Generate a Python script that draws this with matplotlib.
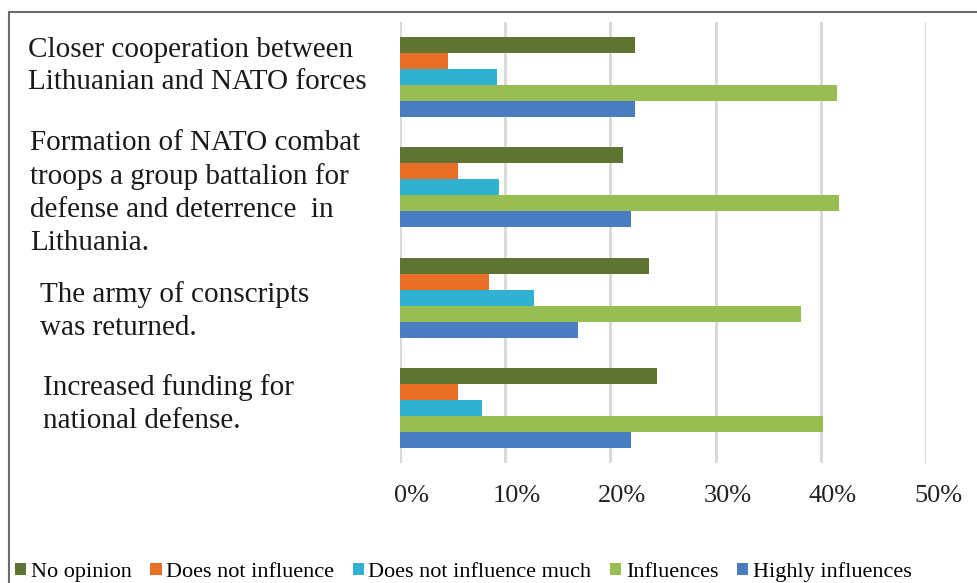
import numpy as np
import matplotlib
matplotlib.use("Agg")
import matplotlib.pyplot as plt
import matplotlib.transforms as mtransforms
from matplotlib.patches import Rectangle

# --- data (percent) ---
categories = [
    "Closer cooperation between\nLithuanian and NATO forces",
    "Formation of NATO combat\ntroops a group battalion for\ndefense and deterrence  in\nLithuania.",
    "The army of conscripts\nwas returned.",
    "Increased funding for\nnational defense.",
]
series_names = ["No opinion", "Does not influence", "Does not influence much",
                "Influences", "Highly influences"]
no_opinion = [22.3, 21.2, 23.7, 24.4]
not_influence = [4.6, 5.5, 8.5, 5.5]
not_influence_much = [9.2, 9.4, 12.7, 7.8]
influences = [41.5, 41.7, 38.1, 40.2]
highly_influences = [22.3, 22.0, 16.9, 22.0]
xticks = [0, 10, 20, 30, 40, 50]
xtick_labels = ["0%", "10%", "20%", "30%", "40%", "50%"]

colors = ["#5e7531", "#e96f26", "#31b1d2", "#98bd52", "#4a7cc2"]

W, H = 978, 583
fig = plt.figure(figsize=(W / 100, H / 100), dpi=100)
plt.rcParams['font.family'] = ['Liberation Serif', 'DejaVu Serif']

# outer frame (open to right and bottom)
fig.patches.append(Rectangle((9 / W, -0.1), 1.2, 1 - 12 / H + 0.1, transform=fig.transFigure,
                             fill=False, edgecolor="#6b6b6b", linewidth=1.5))

ax = fig.add_axes([400 / W, (H - 463) / H, 526 / W, 441 / H])

all_series = [no_opinion, not_influence, not_influence_much, influences, highly_influences]
y = np.arange(len(categories))
h = 0.145
for j, (vals, name, c) in enumerate(zip(all_series, series_names, colors)):
    ax.barh(y + (j - 2) * h, vals, height=h, color=c, label=name, zorder=3)

ax.set_xlim(0, 50)
ax.set_ylim(3.5, -0.5)
ax.set_yticks([])
ax.set_xticks(xticks)
ax.set_xticklabels(xtick_labels, fontsize=19, color="#222222")
ax.tick_params(axis="x", length=0, pad=16)
offset = mtransforms.ScaledTranslation(12 / 100, 0, fig.dpi_scale_trans)
for lab in ax.get_xticklabels():
    lab.set_transform(lab.get_transform() + offset)
ax.grid(axis="x", color="#dcd6d6", linewidth=2, zorder=0)
for s in ax.spines.values():
    s.set_visible(False)

# category labels, left aligned in the left margin
label_pos = [(28, 66), (30, 193), (40, 311), (43, 404)]
for text, (px, py) in zip(categories, label_pos):
    fig.text(px / W, 1 - py / H, text, ha="left", va="center", fontsize=21,
             linespacing=1.33, color="#1a1a1a")

leg = fig.legend(loc="lower left", bbox_to_anchor=(14 / W, 0.0), ncol=5, frameon=False,
                 fontsize=16, handlelength=0.5, handleheight=0.5, handletextpad=0.2,
                 columnspacing=0.85, borderaxespad=0.0, borderpad=0.05)

fig.savefig("out.png", dpi=100)
